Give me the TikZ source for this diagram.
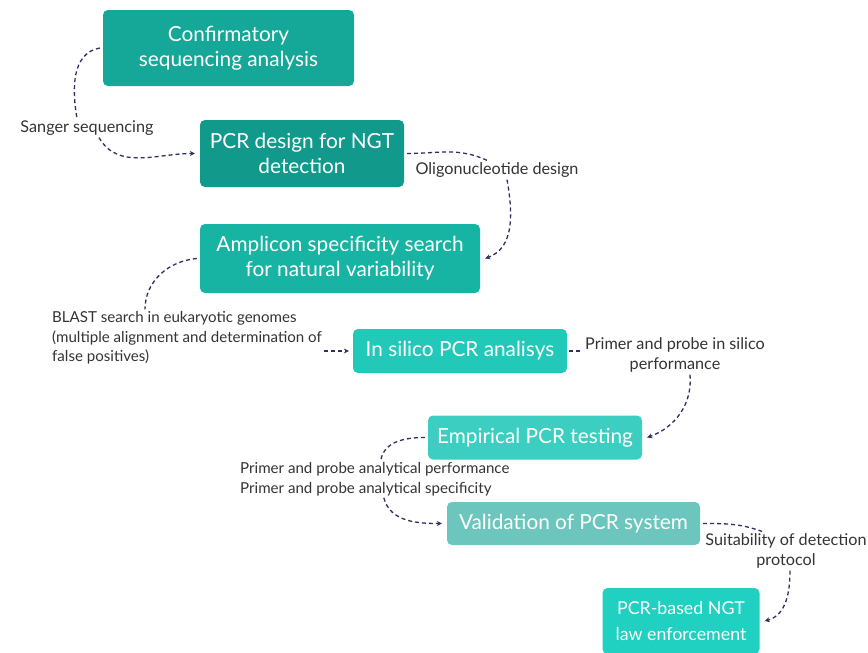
\documentclass[tikz,border=0pt]{standalone}
\usepackage{fontspec}
\setmainfont{Lato}
\usetikzlibrary{shapes,positioning,arrows.meta}
\definecolor{tealA}{HTML}{15A797}
\definecolor{tealB}{HTML}{119A8C}
\definecolor{tealC}{HTML}{18B4A3}
\definecolor{tealD}{HTML}{22C8B8}
\definecolor{tealE}{HTML}{3DCEC2}
\definecolor{tealF}{HTML}{6CC6BD}
\definecolor{tealG}{HTML}{20D0C1}
\definecolor{navy}{HTML}{2E2F60}
\definecolor{labgray}{HTML}{333333}

\begin{document}
\begin{tikzpicture}[x=1pt,y=1pt,
    box/.style={rectangle,rounded corners=5pt,text=white,align=center,
                font=\fontsize{20.8}{25}\selectfont,inner sep=0pt},
    lab/.style={text=labgray,font=\fontsize{16.2}{20}\selectfont,inner sep=2pt},
    smalllab/.style={lab,font=\fontsize{15.1}{19.5}\selectfont},
    conn/.style={navy,line width=1.3pt,dash pattern=on 4pt off 3pt},
    arr/.style={conn,-{Stealth[length=5pt,width=5pt]}}]
  \useasboundingbox (0,0) rectangle (868,-653);
  \node [box,fill=tealA,minimum width=251pt,minimum height=76pt] (b1) at (228.5,-48)
        {Confirmatory\\sequencing analysis};
  \node [box,fill=tealB,minimum width=204pt,minimum height=67pt] (b2) at (302,-153.5)
        {PCR design for NGT\\detection};
  \node [box,fill=tealC,minimum width=280pt,minimum height=69pt] (b3) at (340,-258.5)
        {Amplicon specificity search\\for natural variability};
  \node [box,fill=tealD,minimum width=214pt,minimum height=44pt] (b4) at (460,-351)
        {In silico PCR analisys};
  \node [box,fill=tealE,minimum width=214pt,minimum height=44pt] (b5) at (535,-437.5)
        {Empirical PCR testing};
  \node [box,fill=tealF,minimum width=253pt,minimum height=43pt] (b6) at (573.5,-523.5)
        {Validation of PCR system};
  \node [box,fill=tealG,minimum width=157pt,minimum height=66pt,
         font=\fontsize{17.8}{26}\selectfont] (b7) at (681,-621)
        {PCR-based NGT\\law enforcement};
  \node [lab] (l1) at (87,-128) {Sanger sequencing};
  \node [lab] (l2) at (497,-170) {Oligonucleotide design};
  \node [smalllab,anchor=west,align=left] (l3) at (50,-338)
        {BLAST search in eukaryotic genomes\\(multiple alignment and determination of\\false positives)};
  \node [lab,align=center] (l4) at (675,-355) {Primer and probe in silico\\performance};
  \node [smalllab,anchor=west,align=left] (l5) at (238,-479)
        {Primer and probe analytical performance\\Primer and probe analytical specificity};
  \node [lab,align=center] (l6) at (786,-551) {Suitability of detection\\protocol};
  \draw [conn] ([xshift=-3pt]b1.west) to [out=190,in=100] ([xshift=-10pt]l1.north);
  \draw [arr] ([xshift=12pt]l1.south) to [out=-60,in=180] ([xshift=-5pt]b2.west);
  \draw [conn] ([xshift=3pt]b2.east) to [out=0,in=155] ([xshift=-10pt]l2.north);
  \draw [arr] ([xshift=10pt]l2.south) to [out=-80,in=20] ([xshift=5pt]b3.east);
  \draw [conn] ([xshift=-3pt]b3.west) to [out=185,in=90] ([xshift=95pt]l3.north west);
  \draw [arr] (l3.east |- b4.west) -- ([xshift=-4pt]b4.west);
  \draw [conn] ([xshift=2pt]b4.east) -- (b4.east -| l4.west);
  \draw [arr] ([xshift=15pt]l4.south) to [out=-85,in=20] ([xshift=5pt]b5.east);
  \draw [conn] ([xshift=-3pt]b5.west) to [out=180,in=80] ([xshift=6pt]l5.north);
  \draw [arr] ([xshift=9pt]l5.south) to [out=-75,in=180] ([xshift=-5pt]b6.west);
  \draw [conn] ([xshift=3pt]b6.east) to [out=0,in=160] ([xshift=-24pt]l6.north);
  \draw [arr] ([xshift=4pt]l6.south) to [out=-90,in=15] ([xshift=5pt]b7.east);
\end{tikzpicture}
\end{document}
